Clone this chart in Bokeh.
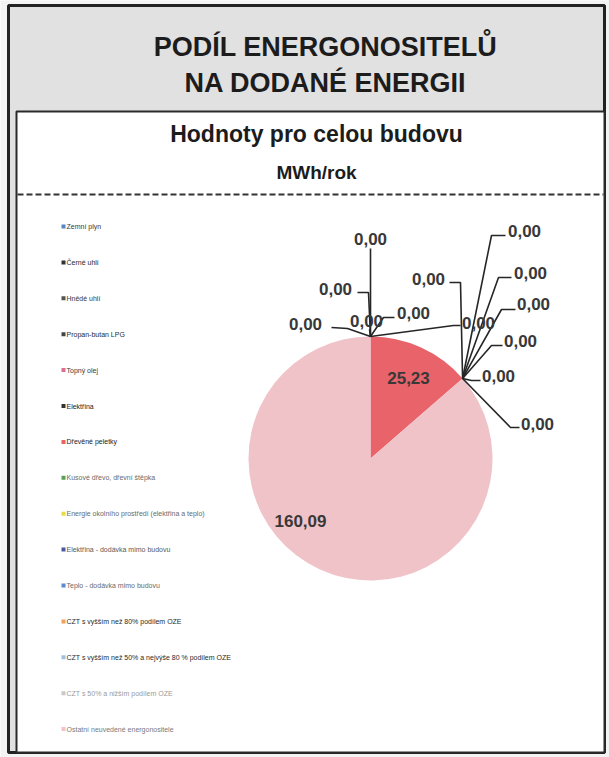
import numpy as np
from bokeh.plotting import figure
from bokeh.models import Range1d, ColumnDataSource
from bokeh.core.properties import value
from bokeh.embed import file_html
from bokeh.resources import INLINE

# ---------------- data ----------------
categories = [
    "Zemní plyn",
    "Černé uhlí",
    "Hnědé uhlí",
    "Propan-butan LPG",
    "Topný olej",
    "Elektřina",
    "Dřevěné peletky",
    "Kusové dřevo, dřevní štěpka",
    "Energie okolního prostředí (elektřina a teplo)",
    "Elektřina - dodávka mimo budovu",
    "Teplo - dodávka mimo budovu",
    "CZT s vyšším než 80% podílem OZE",
    "CZT  s vyšším než 50% a nejvýše 80 % podílem OZE",
    "CZT s 50% a nižším podílem OZE",
    "Ostatní neuvedené energonositele",
]
values = [0.00, 0.00, 0.00, 0.00, 0.00, 0.00, 25.23, 0.00, 0.00, 0.00, 0.00, 0.00, 0.00, 0.00, 160.09]

title_lines = ["PODÍL ENERGONOSITELŮ", "NA DODANÉ ENERGII"]
subtitle = "Hodnoty pro celou budovu"
unit = "MWh/rok"

# ---------------- styles / layout ----------------
palette = ["#5b86c5", "#333333", "#555555", "#444444", "#d9708e", "#333333",
           "#e8636a", "#5aa05a", "#e6dc4a", "#4a5aa0", "#5a8ad0", "#f0a060",
           "#a0c0e0", "#c8c8c8", "#f0c3c8"]
legend_text_colors = ["#3a3a3a", "#2a2a2a", "#3a3a3a", "#2a2a2a", "#3a3a3a",
                      "#1a1a1a", "#1a1a1a", "#6a6a6a", "#6a6a6a", "#5a5a5a",
                      "#6a6a6a", "#2a2a2a", "#2a2a2a", "#9a9a9a", "#7a7a7a"]
W, H = 609, 757
FONT = value("Liberation Sans")

def Y(py):
    return H - py

# pie geometry (pixels, y down)
CX, CY, R = 370, 458, 122

# callout layout for the zero slices, in slice order:
# (label_x, label_y, attach_x, attach_y, elbow_x, elbow_y)
zero_callouts = [
    (370, 238, 370, 248, 370, 248),
    (335, 288, 357, 292, 368, 292),
    (305, 323, 331, 327, 347, 328),
    (366, 320, 369, 329, 369, 329),
    (413, 312, 394, 317, 383, 317),
    (478, 322, 460, 325, 453, 325),
    (428, 278, 449, 282, 460, 282),
    (524, 230, 505, 235, 491, 235),
    (530, 272, 511, 277, 498, 277),
    (533, 303, 515, 309, 501, 309),
    (520, 340, 502, 345, 491, 345),
    (498, 375, 480, 380, 471, 380),
    (537, 423, 519, 427, 510, 427),
]
# label positions for non-zero slices, in slice order
value_label_pos = [(408, 377), (300, 520)]

legend_y0, legend_dy = 226, 35.9
legend_x = 63

# ---------------- figure ----------------
p = figure(width=W, height=H, x_range=Range1d(0, W), y_range=Range1d(0, H),
           output_backend="svg", toolbar_location=None,
           x_axis_location=None, y_axis_location=None, min_border=0)
p.grid.visible = False
p.outline_line_color = None
p.background_fill_color = "#f3f3f3"
p.border_fill_color = "#f3f3f3"

# frames
p.quad(left=[8], right=[604], top=[Y(5)], bottom=[Y(752)],
       fill_color="#e1e1e1", line_color="#222222", line_width=3)
p.quad(left=[16], right=[604], top=[Y(111)], bottom=[Y(752)],
       fill_color="#ffffff", line_color="#2a2a2a", line_width=2)
p.line(x=[17, 603], y=[Y(194), Y(194)], line_color="#333333",
       line_width=2, line_dash="6 3")

# titles
p.text(x=[325, 325], y=[Y(46), Y(82)], text=title_lines, text_font=FONT,
       text_font_style="bold", text_font_size="27px", text_align="center",
       text_baseline="middle", text_color="#1c1c1c")
p.text(x=[316], y=[Y(133)], text=[subtitle], text_font=FONT,
       text_font_style="bold", text_font_size="23px", text_align="center",
       text_baseline="middle", text_color="#1c1c1c")
p.text(x=[316], y=[Y(172)], text=[unit], text_font=FONT,
       text_font_style="bold", text_font_size="19px", text_align="center",
       text_baseline="middle", text_color="#1c1c1c")

# pie
vals = np.array(values, dtype=float)
total = vals.sum()
cum_after = np.cumsum(vals)
cum_before = cum_after - vals
a_start = np.pi / 2 - 2 * np.pi * cum_before / total
a_end = np.pi / 2 - 2 * np.pi * cum_after / total

nz = np.nonzero(vals)[0]
src = ColumnDataSource(dict(
    start=a_end[nz], end=a_start[nz], color=[palette[i] for i in nz],
    cat=[categories[i] for i in nz]))
p.wedge(x=CX, y=Y(CY), radius=R, start_angle="start", end_angle="end",
        fill_color="color", line_color=None, source=src)

def fmt(v):
    return f"{v:.2f}".replace(".", ",")

# value labels for non-zero slices
for k, i in enumerate(nz):
    lx, ly = value_label_pos[k]
    p.text(x=[lx], y=[Y(ly)], text=[fmt(vals[i])], text_font=FONT,
           text_font_style="bold", text_font_size="17px", text_align="center",
           text_baseline="middle", text_color="#383838")

# callouts for zero slices (anchored on the pie edge at the slice angle)
zi = [i for i in range(len(vals)) if vals[i] == 0]
xs, ys, tx, ty, tt = [], [], [], [], []
for k, i in enumerate(zi):
    lx, ly, ax, ay, ex, ey = zero_callouts[k]
    px = CX + R * np.cos(a_start[i])
    py = Y(CY) + R * np.sin(a_start[i])
    xs.append([ax, ex, px])
    ys.append([Y(ay), Y(ey), py])
    tx.append(lx)
    ty.append(Y(ly))
    tt.append(fmt(vals[i]))
p.multi_line(xs=xs, ys=ys, line_color="#262626", line_width=1.6)
p.text(x=tx, y=ty, text=tt, text_font=FONT, text_font_style="bold",
       text_font_size="17px", text_align="center", text_baseline="middle",
       text_color="#383838")

# legend
ly = [Y(legend_y0 + legend_dy * i) for i in range(len(categories))]
p.rect(x=[legend_x] * len(categories), y=ly, width=4, height=4,
       fill_color=palette, line_color=None)
p.text(x=[legend_x + 3] * len(categories), y=ly, text=categories,
       text_font=FONT, text_font_size="7px", text_align="left",
       text_baseline="middle", text_color=legend_text_colors)

open("out.html", "w").write(file_html(p, INLINE))
